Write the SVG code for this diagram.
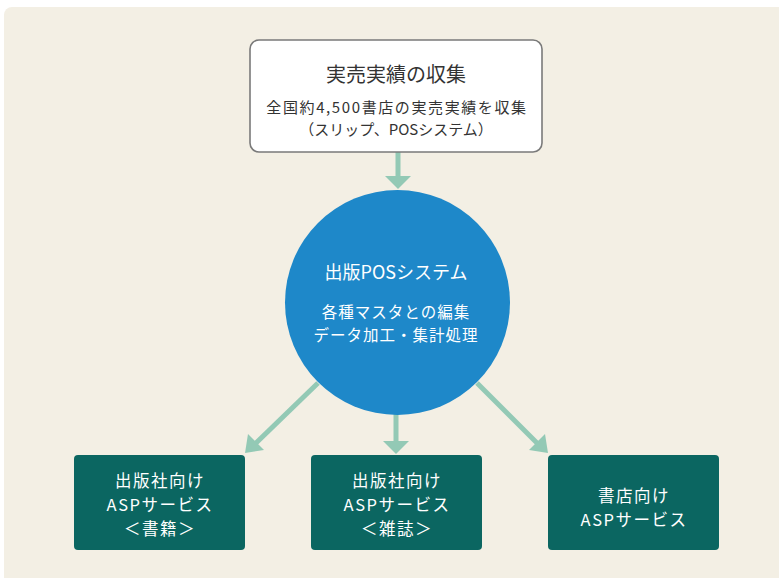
<svg xmlns="http://www.w3.org/2000/svg" width="779" height="578" viewBox="0 0 779 578">
<style>
text{font-family:"Noto Sans CJK JP","Noto Sans",sans-serif;text-anchor:middle}
.dark{fill:#333333}
.w{fill:#ffffff}
.svc{fill:#0b6661}
.st{font-size:16.5px;letter-spacing:1.5px}
.conn{stroke:#93c9b5;stroke-width:5;fill:none}
.head{fill:#93c9b5}
</style>
<rect x="0" y="0" width="779" height="578" fill="#ffffff"/>
<rect x="4" y="7" width="785" height="581" rx="8" fill="#f3efe4"/>
<g id="connectors">
<line class="conn" x1="398" y1="152" x2="398" y2="176"/>
<polygon class="head" points="385,176 411,176 398,189"/>
<line class="conn" x1="396" y1="414" x2="396" y2="441"/>
<polygon class="head" points="383,441 409,441 396,454"/>
<line class="conn" x1="318" y1="383" x2="255" y2="444"/>
<polygon class="head" points="245,453 248,434 264,450"/>
<line class="conn" x1="477" y1="383" x2="538" y2="444"/>
<polygon class="head" points="548,453 529,450 545,434"/>
</g>
<g id="collect">
<rect x="250" y="40" width="292" height="112" rx="9" fill="#ffffff" stroke="#7a7a7a" stroke-width="1.6"/>
<text class="dark" x="396" y="82" font-size="20">実売実績の収集</text>
<text class="dark" x="397" y="113" font-size="15" letter-spacing="1.6">全国約4,500書店の実売実績を収集</text>
<text class="dark" x="396" y="135" font-size="15">（スリップ、POSシステム）</text>
</g>
<g id="pos">
<circle cx="397.5" cy="302.5" r="112.5" fill="#1e88c9"/>
<text class="w" x="396" y="279" font-size="18">出版POSシステム</text>
<text class="w" x="396" y="318" font-size="15.5" letter-spacing="1">各種マスタとの編集</text>
<text class="w" x="396" y="341" font-size="15.5" letter-spacing="1">データ加工・集計処理</text>
</g>
<g id="svc-books">
<rect class="svc" x="74" y="455" width="171" height="95" rx="4"/>
<text class="w st" x="160" y="487">出版社向け</text>
<text class="w st" x="160" y="511">ASPサービス</text>
<text class="w st" x="160" y="535">＜書籍＞</text>
</g>
<g id="svc-magazines">
<rect class="svc" x="311" y="455" width="171" height="95" rx="4"/>
<text class="w st" x="397" y="487">出版社向け</text>
<text class="w st" x="397" y="511">ASPサービス</text>
<text class="w st" x="397" y="535">＜雑誌＞</text>
</g>
<g id="svc-stores">
<rect class="svc" x="548" y="455" width="171" height="95" rx="4"/>
<text class="w st" x="634" y="502">書店向け</text>
<text class="w st" x="634" y="526">ASPサービス</text>
</g>
</svg>
